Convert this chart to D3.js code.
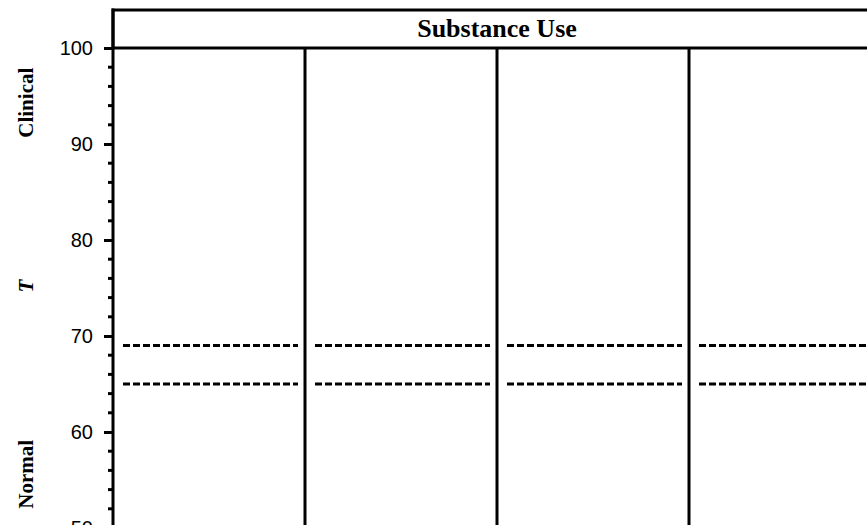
<!DOCTYPE html>
<html>
<head>
<meta charset="utf-8">
<script src="https://cdn.jsdelivr.net/npm/d3@7"></script>
<style>
  html, body { margin: 0; padding: 0; background: #fff; }
  svg { display: block; }
</style>
</head>
<body>
<figure id="chart" style="margin:0"></figure>
<script>
// panel title and the scale columns under it (no column labels shown)
const title = "Substance Use";
const columns = ["c1", "c2", "c3", "c4"];

// cut-off lines (T scores)
const cutoffs = [65, 69];

// y axis
const yDomain = [50, 100];
const majorTicks = [50, 60, 70, 80, 90, 100];
const minorTicks = [52, 54, 56, 58, 62, 64, 66, 68, 72, 74, 76, 78, 82, 84, 86, 88, 92, 94, 96, 98];

// side labels
const sideLabels = [
  { text: "Clinical", value: 94.3, italic: false },
  { text: "T", value: 75.2, italic: true },
  { text: "Normal", value: 55.6, italic: false }
];

const width = 867;
const height = 525;
const left = 113;
const colWidth = 192;
const headerTop = 10;
const plotTop = 48;
const plotBottom = 528;

const svg = d3.select("figure#chart").append("svg")
  .attr("width", width)
  .attr("height", height);

const x = d3.scaleBand()
  .domain(columns)
  .range([left, left + colWidth * columns.length])
  .paddingInner(0)
  .paddingOuter(0);

const y = d3.scaleLinear()
  .domain(yDomain)
  .range([plotBottom, plotTop]);

// header box
svg.append("rect")
  .attr("x", left)
  .attr("y", headerTop)
  .attr("width", x.range()[1] - left)
  .attr("height", plotTop - headerTop)
  .attr("fill", "none")
  .attr("stroke", "#000")
  .attr("stroke-width", 3);

svg.append("text")
  .text(title)
  .attr("x", (x.range()[0] + x.range()[1]) / 2)
  .attr("y", 37)
  .attr("text-anchor", "middle")
  .attr("font-family", "'Liberation Serif', 'Times New Roman', serif")
  .attr("font-weight", "bold")
  .attr("font-size", "26px");

// column dividers
svg.selectAll(".divider")
  .data(columns.slice(1))
  .enter().append("line")
  .attr("class", "divider")
  .attr("x1", d => x(d))
  .attr("x2", d => x(d))
  .attr("y1", y(100))
  .attr("y2", height + 5)
  .attr("stroke", "#000")
  .attr("stroke-width", 3);

// dashed cut-off lines, one piece per column
const pieces = [];
columns.forEach(c => cutoffs.forEach(v => pieces.push({ col: c, value: v })));

svg.selectAll(".cutoff")
  .data(pieces)
  .enter().append("line")
  .attr("class", "cutoff")
  .attr("x1", d => x(d.col) + 10)
  .attr("x2", d => x(d.col) + x.bandwidth() - 7)
  .attr("y1", d => y(d.value))
  .attr("y2", d => y(d.value))
  .attr("stroke", "#000")
  .attr("stroke-width", 3)
  .attr("stroke-dasharray", "7,3");

// y axis
const yAxis = d3.axisLeft(y)
  .tickValues(majorTicks)
  .tickSize(9)
  .tickPadding(11)
  .tickFormat(d3.format("d"));

const axisG = svg.append("g")
  .attr("transform", "translate(" + left + ",0)")
  .call(yAxis);

axisG.select(".domain").remove();
axisG.selectAll(".tick line")
  .attr("stroke", "#000")
  .attr("stroke-width", 3);
axisG.selectAll(".tick text")
  .attr("fill", "#000")
  .attr("font-family", "'Liberation Sans', Arial, sans-serif")
  .attr("font-size", "20px");

axisG.selectAll(".minor")
  .data(minorTicks)
  .enter().append("line")
  .attr("class", "minor")
  .attr("x1", -5)
  .attr("x2", 0)
  .attr("y1", d => y(d))
  .attr("y2", d => y(d))
  .attr("stroke", "#000")
  .attr("stroke-width", 3);

// axis line runs from header top to the bottom
svg.append("line")
  .attr("x1", left)
  .attr("x2", left)
  .attr("y1", headerTop - 1.5)
  .attr("y2", height + 5)
  .attr("stroke", "#000")
  .attr("stroke-width", 3);

// rotated side labels
svg.selectAll(".side")
  .data(sideLabels)
  .enter().append("text")
  .attr("class", "side")
  .text(d => d.text)
  .attr("transform", d => "translate(33," + y(d.value) + ") rotate(-90)")
  .attr("text-anchor", "middle")
  .attr("font-family", "'Liberation Serif', 'Times New Roman', serif")
  .attr("font-weight", "bold")
  .attr("font-style", d => d.italic ? "italic" : "normal")
  .attr("font-size", "21px");
</script>
</body>
</html>
